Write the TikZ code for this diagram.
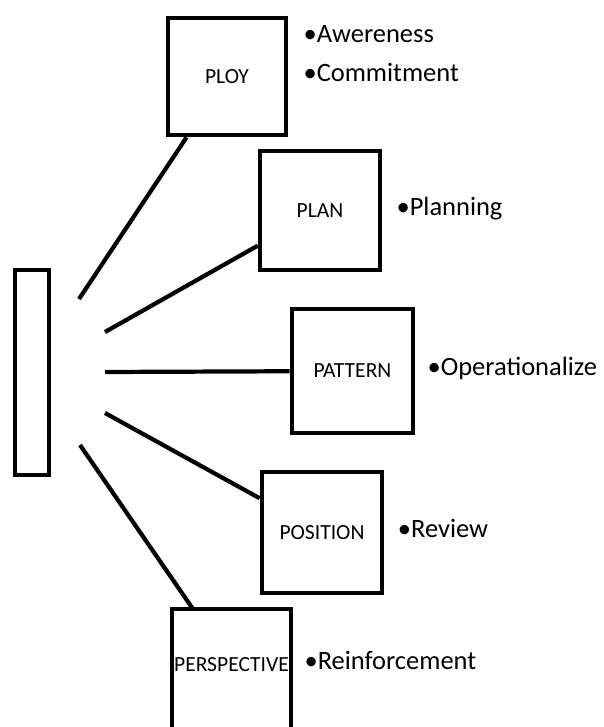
\documentclass[tikz,border=0pt]{standalone}
\usepackage{fontspec}
\setmainfont{Carlito}
\usepackage{tikz}
\usetikzlibrary{positioning,calc}
\tikzset{
  stage/.style={draw, line width=4pt, inner sep=1pt, minimum width=#1, minimum height=#1, font=\fontsize{18.4}{22}\selectfont},
  stage/.default=3.6cm,
  side/.style={draw, line width=4pt, minimum width=1.02cm, minimum height=6.15cm},
  spoke/.style={line width=3.6pt},
  note/.style={inner sep=0pt, anchor=west, text height=.9em, text depth=.1em, font=\fontsize{22.6}{26}\selectfont},
}
\begin{document}
\begin{tikzpicture}[x=0.03cm, y=-0.03cm]
  \useasboundingbox (0,0) rectangle (603,727);
  % the five p's
  \node[stage, minimum width=3.54cm, minimum height=3.51cm] (ploy) at (227,76.5) {PLOY};
  \node[stage, minimum height=3.57cm] (plan) at (320,210.5) {PLAN};
  \node[stage=3.63cm, minimum height=3.72cm] (pattern) at (352.5,371) {PATTERN};
  \node[stage, minimum height=3.63cm] (position) at (322,532.5) {POSITION};
  \node[stage=3.57cm, minimum height=3.36cm, draw=none, outer sep=0pt] (persp) at (231.5,665) {PERSPECTIVE};
  \draw[line width=4pt] ([yshift=-0.18cm]persp.south west) -- (persp.north west)
    -- (persp.north east) -- ([yshift=-0.18cm]persp.south east);
  % left bar
  \node[side] (pillar) at (32,372.5) {};
  % spokes
  \coordinate (s1) at (79,299);
  \coordinate (s2) at (105,332);
  \coordinate (s3) at (105,372);
  \coordinate (s4) at (105,413);
  \coordinate (s5) at (80,445);
  \draw[spoke] (s1) -- (ploy);
  \draw[spoke] (s2) -- (plan);
  \draw[spoke] (s3) -- (pattern);
  \draw[spoke] (s4) -- (position);
  \draw[spoke] (s5) -- (persp);
  % bullets
  \node[note, right=0.45cm of ploy] (commit) {•Commitment};
  \node[note] (aware) at ([yshift=1.17cm]commit.west) {•Awereness};
  \node[note, right=0.42cm of plan] (planning) {•Planning};
  \node[note, right=0.36cm of pattern] (oper) {•Operationalize};
  \node[note, right=0.4cm of position] (review) {•Review};
  \node[note, right=0.4cm of persp] (reinf) {•Reinforcement};
\end{tikzpicture}
\end{document}
